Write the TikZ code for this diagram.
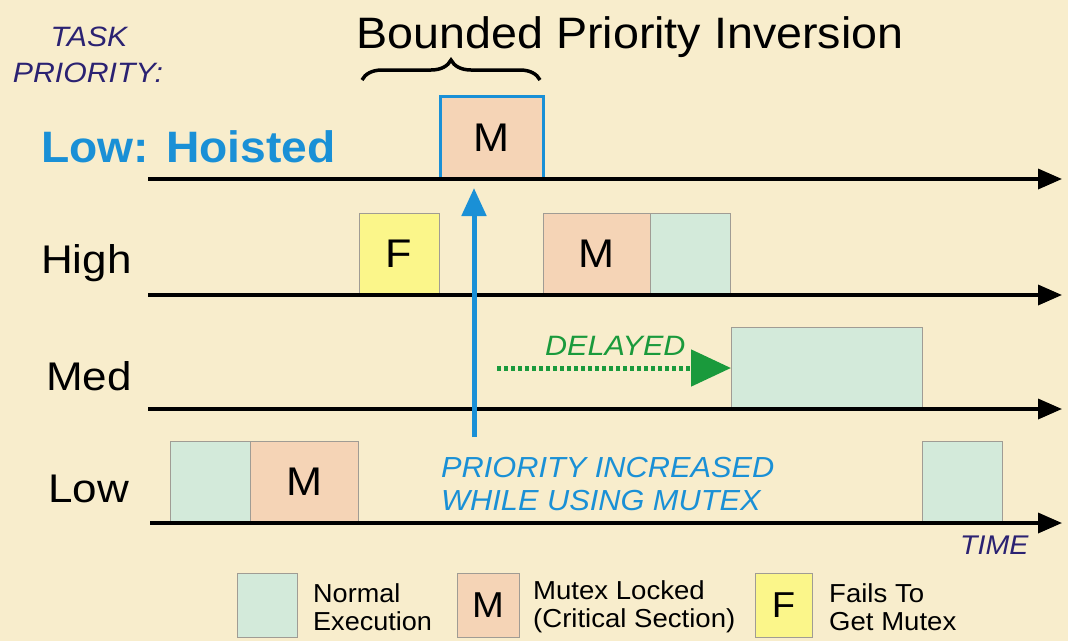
\documentclass[tikz,border=0pt]{standalone}
\usepackage{fontspec}
\usepackage{graphicx}
\setmainfont{Liberation Sans}
\usetikzlibrary{arrows.meta,decorations.pathreplacing}
\definecolor{bg}{HTML}{F8EDCC}
\definecolor{normc}{HTML}{D3EADA}
\definecolor{mutc}{HTML}{F5D4B6}
\definecolor{failc}{HTML}{FBF68A}
\definecolor{hblue}{HTML}{1A90D6}
\definecolor{dgreen}{HTML}{1A9A3C}
\definecolor{navy}{HTML}{2B2272}
\definecolor{edgec}{HTML}{A09C94}
\newcommand{\fs}[1]{\fontsize{#1}{#1}\selectfont}
\newcommand{\hs}[2]{\scalebox{#1}[1]{#2}}
\tikzset{
  seg/.style={draw=edgec, line width=1pt, anchor=south west, inner sep=0pt, outer sep=0pt, font=\fs{40}},
  normbox/.style={seg, fill=normc},
  mutbox/.style={seg, fill=mutc},
  failbox/.style={seg, fill=failc},
  axis/.style={line width=3.5pt, -{Triangle[length=24pt,width=20pt]}},
  lbl/.style={anchor=base west, inner sep=0pt, font=\fs{40}},
  legtxt/.style={anchor=west, inner sep=0pt, align=left, font=\fs{26}},
}
\begin{document}
\begin{tikzpicture}[x=1pt,y=-1pt]
\fill[bg] (0,0) rectangle (1068,641);
\useasboundingbox (0,0) rectangle (1068,641);
% labels
\node[anchor=base, inner sep=0pt, font=\fs{28}\itshape, text=navy] (tp1) at (89,46) {\hs{1.08}{TASK}};
\node[anchor=base, inner sep=0pt, font=\fs{28}\itshape, text=navy] (tp2) at (88,82) {\hs{1.08}{PRIORITY:}};
\node[anchor=base, inner sep=0pt, font=\fs{44}] (title) at (630,48) {\hs{1.06}{Bounded Priority Inversion}};
\node[lbl, font=\fs{44}\bfseries, text=hblue] (lh) at (41,162) {\hs{1.05}{Low: Hoisted}};
\node[lbl] (lhigh) at (41,273) {\hs{1.1}{High}};
\node[lbl] (lmed) at (46,390) {\hs{1.1}{Med}};
\node[lbl] (llow) at (48,502) {\hs{1.1}{Low}};
% brace
\coordinate (bra) at (362,80);
\coordinate (brb) at (540,80);
\draw[line width=3.5pt, decorate, decoration={brace, amplitude=20pt}] (bra) -- (brb);
% axes
\coordinate (a1s) at (148,179); \coordinate (a1e) at (1062,179);
\coordinate (a2s) at (148,295); \coordinate (a2e) at (1062,295);
\coordinate (a3s) at (148,409); \coordinate (a3e) at (1062,409);
\coordinate (a4s) at (150,523); \coordinate (a4e) at (1062,523);
% boxes
\node[mutbox, draw=hblue, line width=3pt, minimum width=103pt, minimum height=83pt] (hm) at (440,179) {\hs{1.08}{M}};
\node[failbox, minimum width=80pt, minimum height=82pt] (hf) at (359,295) {\hs{1.08}{F}};
\node[mutbox, minimum width=107pt, minimum height=82pt] (hmm) at (543,295) {\hs{1.08}{M}};
\node[normbox, minimum width=80pt, minimum height=82pt] (hn) at (650,295) {};
\node[normbox, minimum width=191pt, minimum height=82pt] (mn) at (731,409) {};
\node[normbox, minimum width=80pt, minimum height=82pt] (ln1) at (170,523) {};
\node[mutbox, minimum width=108pt, minimum height=82pt] (lm) at (250,523) {\hs{1.08}{M}};
\node[normbox, minimum width=80pt, minimum height=82pt] (ln2) at (922,523) {};
\draw[axis] (a1s) -- (a1e);
\draw[axis] (a2s) -- (a2e);
\draw[axis] (a3s) -- (a3e);
\draw[axis] (a4s) -- (a4e);
% blue arrow
\coordinate (bs) at (474,437);
\coordinate (be) at (474,188);
\draw[hblue, line width=5pt, -{Triangle[length=28pt,width=24pt]}] (bs) -- (be);
\node[anchor=base west, inner sep=0pt, font=\fs{29}\itshape, text=hblue] (pi1) at (441,477) {\hs{1.06}{PRIORITY INCREASED}};
\node[anchor=base west, inner sep=0pt, font=\fs{29}\itshape, text=hblue] (pi2) at (441,510) {\hs{1.06}{WHILE USING MUTEX}};
% delayed
\coordinate (ds) at (497,368);
\draw[dgreen, line width=5pt, dash pattern=on 4pt off 3pt, -{Triangle[length=40pt,width=36pt,sep=0pt]}] (ds) -- (mn.west |- ds);
\node[anchor=base west, inner sep=0pt, font=\fs{28}\itshape, text=dgreen] (dl) at (545,355) {\hs{1.09}{DELAYED}};
\node[anchor=base west, inner sep=0pt, font=\fs{27}\itshape, text=navy] (time) at (960,554) {\hs{1.06}{TIME}};
% legend
\node[normbox, anchor=north west, minimum width=60pt, minimum height=64pt] (k1) at (237,573) {};
\node[legtxt] (k1t) at (313,607) {\hs{1.04}{Normal}\\[2pt]\hs{1.04}{Execution}};
\node[mutbox, anchor=north west, minimum width=62pt, minimum height=64pt, font=\fs{36}] (k2) at (457,573) {\hs{1.06}{M}};
\node[legtxt] (k2t) at (533,607) {\hs{1.06}{Mutex Locked}\\[2pt]\hs{1.06}{(Critical Section)}};
\node[failbox, anchor=north west, minimum width=57pt, minimum height=64pt, font=\fs{36}] (k3) at (755,573) {\hs{1.06}{F}};
\node[legtxt] (k3t) at (829,607) {\hs{1.06}{Fails To}\\[2pt]\hs{1.06}{Get Mutex}};
\end{tikzpicture}
\end{document}
